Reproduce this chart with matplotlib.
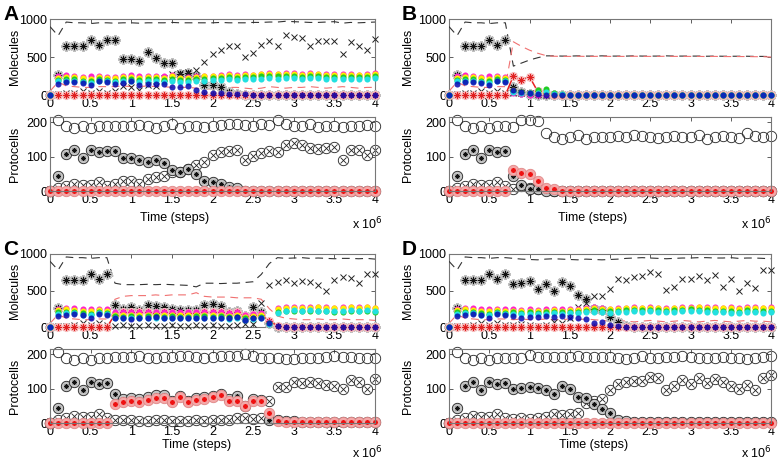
import numpy as np
import matplotlib
matplotlib.use("Agg")
import matplotlib.pyplot as plt

plt.rcParams['font.family'] = ['Liberation Sans', 'DejaVu Sans']

# sampling times (x 10^6 steps)
t = [0.0, 0.1, 0.2, 0.3, 0.4, 0.5, 0.6, 0.7, 0.8, 0.9, 1.0,
     1.1, 1.2, 1.3, 1.4, 1.5, 1.6, 1.7, 1.8, 1.9, 2.0,
     2.1, 2.2, 2.3, 2.4, 2.5, 2.6, 2.7, 2.8, 2.9, 3.0,
     3.1, 3.2, 3.3, 3.4, 3.5, 3.6, 3.7, 3.8, 3.9, 4.0]

# first 0.7e6 steps are the same in all four runs
tot_0 = [900, 780, 960, 950, 950, 940, 950, 950]
rtot_0 = [50, 170, 120, 110, 100, 100, 110, 110]
star_0 = [0, 260, 640, 640, 650, 730, 660, 730]
cross_0 = [0, 10, 20, 30, 50, 30, 50, 30]
rstar_0 = [0, 0, 0, 0, 0, 0, 0, 0]
mag_0 = [0, 250, 260, 255, 240, 245, 250, 240]
yel_0 = [0, 230, 240, 235, 220, 215, 235, 225]
grn_0 = [0, 200, 210, 205, 190, 180, 205, 195]
cyn_0 = [0, 180, 190, 185, 170, 160, 190, 180]
blu_0 = [0, 150, 170, 175, 160, 130, 180, 170]
popen_0 = [0, 205, 188, 182, 190, 182, 188, 188]
pstar_0 = [0, 45, 108, 120, 95, 118, 113, 116]
pcross_0 = [0, 10, 15, 20, 18, 18, 25, 15]
pred_0 = [0, 0, 0, 0, 0, 0, 0, 0]

# ---------------- run A ----------------
tot_A = tot_0 + [945, 950, 950, 945, 950, 950, 950, 955, 950, 950, 950,
                 950, 950, 955, 950, 950, 950, 955, 955, 960, 960, 970,
                 965, 960, 955, 955, 960, 965, 945, 955, 950, 955, 960]
rtot_A = rtot_0 + [110, 120, 110, 110, 120, 110, 110, 100, 100, 100, 90,
                   80, 80, 90, 100, 100, 90, 80, 90, 110, 100, 90,
                   100, 100, 110, 100, 90, 100, 110, 100, 90, 100, 100]
star_A = star_0 + [720, 470, 480, 450, 560, 490, 420, 420, 280, 290, 250,
                   130, 130, 100, 40, 10, 0, 0, 0, 0, 0, 0,
                   0, 0, 0, 0, 0, 0, 0, 0, 0, 0, 0]
cross_A = cross_0 + [50, 120, 100, 60, 130, 120, 230, 270, 290, 300, 330,
                     440, 540, 590, 640, 650, 500, 550, 660, 710, 640, 790,
                     760, 750, 650, 710, 710, 710, 540, 700, 650, 590, 740]
rstar_A = rstar_0 + [0, 0, 0, 0, 0, 0, 0, 0, 0, 0, 0,
                     0, 0, 0, 0, 0, 0, 0, 0, 0, 0, 0,
                     0, 0, 0, 0, 0, 0, 0, 0, 0, 0, 0]
mag_A = mag_0 + [240, 255, 260, 250, 250, 255, 245, 260, 230, 235, 245,
                 250, 255, 265, 270, 265, 270, 265, 275, 285, 280, 285,
                 285, 275, 285, 280, 275, 270, 270, 275, 265, 275, 285]
yel_A = yel_0 + [225, 235, 240, 230, 235, 240, 230, 245, 220, 225, 235,
                 245, 250, 255, 260, 255, 265, 260, 270, 275, 270, 275,
                 275, 265, 275, 270, 265, 265, 260, 265, 260, 265, 280]
grn_A = grn_0 + [190, 205, 210, 200, 205, 210, 200, 215, 195, 200, 205,
                 215, 220, 225, 235, 230, 235, 235, 245, 250, 245, 250,
                 250, 240, 250, 245, 240, 240, 235, 240, 235, 240, 255]
cyn_A = cyn_0 + [170, 180, 185, 175, 180, 185, 170, 190, 170, 175, 185,
                 190, 195, 200, 205, 200, 210, 210, 215, 220, 215, 220,
                 225, 215, 225, 220, 215, 210, 210, 215, 205, 210, 225]
blu_A = blu_0 + [150, 160, 180, 130, 140, 150, 150, 110, 110, 120, 70,
                 40, 30, 20, 10, 10, 8, 5, 5, 5, 5, 5,
                 5, 5, 5, 5, 5, 5, 5, 5, 5, 5, 5]
popen_A = popen_0 + [190, 188, 190, 192, 188, 182, 190, 195, 182, 190, 188,
                     185, 190, 192, 195, 195, 192, 188, 195, 192, 205, 195,
                     188, 188, 195, 185, 190, 188, 185, 188, 190, 192, 188]
pstar_A = pstar_0 + [117, 97, 95, 90, 85, 90, 80, 60, 55, 65, 50,
                     30, 25, 20, 12, 10, 0, 0, 0, 0, 0, 0,
                     0, 0, 0, 0, 0, 0, 0, 0, 0, 0, 0]
pcross_A = pcross_0 + [20, 30, 30, 20, 35, 40, 45, 55, 55, 65, 75,
                       85, 105, 112, 115, 118, 90, 103, 110, 115, 112, 135,
                       140, 135, 125, 123, 125, 128, 90, 120, 120, 105, 118]
pred_A = pred_0 + [0, 0, 0, 0, 0, 0, 0, 0, 0, 0, 0,
                   0, 0, 0, 0, 0, 0, 0, 0, 0, 0, 0,
                   0, 0, 0, 0, 0, 0, 0, 0, 0, 0, 0]

# ---------------- run B ----------------
tot_B = tot_0 + [380, 420, 460, 490, 515, 515, 512, 512, 515, 512, 512,
                 515, 512, 512, 512, 515, 512, 512, 512, 515, 512, 512,
                 512, 512, 510, 512, 510, 510, 510, 510, 508, 508, 505]
rtot_B = rtot_0 + [700, 640, 590, 550, 520, 510, 508, 508, 510, 508, 508,
                   510, 508, 508, 508, 510, 508, 508, 508, 510, 508, 508,
                   508, 508, 506, 508, 506, 506, 506, 506, 504, 504, 500]
star_B = star_0 + [100, 40, 10, 5, 0, 0, 0, 0, 0, 0, 0,
                   0, 0, 0, 0, 0, 0, 0, 0, 0, 0, 0,
                   0, 0, 0, 0, 0, 0, 0, 0, 0, 0, 0]
cross_B = cross_0 + [20, 30, 20, 10, 5, 0, 0, 0, 0, 0, 0,
                     0, 0, 0, 0, 0, 0, 0, 0, 0, 0, 0,
                     0, 0, 0, 0, 0, 0, 0, 0, 0, 0, 0]
rstar_B = rstar_0 + [250, 200, 240, 50, 20, 0, 0, 0, 0, 0, 0,
                     0, 0, 0, 0, 0, 0, 0, 0, 0, 0, 0,
                     0, 0, 0, 0, 0, 0, 0, 0, 0, 0, 0]
mag_B = mag_0 + [20, 10, 5, 5, 0, 0, 0, 0, 0, 0, 0,
                 0, 0, 0, 0, 0, 0, 0, 0, 0, 0, 0,
                 0, 0, 0, 0, 0, 0, 0, 0, 0, 0, 0]
yel_B = yel_0 + [60, 40, 30, 40, 20, 5, 0, 0, 0, 0, 0,
                 0, 0, 0, 0, 0, 0, 0, 0, 0, 0, 0,
                 0, 0, 0, 0, 0, 0, 0, 0, 0, 0, 0]
grn_B = grn_0 + [50, 40, 30, 60, 80, 20, 10, 0, 0, 0, 0,
                 0, 0, 0, 0, 0, 0, 0, 0, 0, 0, 0,
                 0, 0, 0, 0, 0, 0, 0, 0, 0, 0, 0]
cyn_B = cyn_0 + [40, 30, 20, 30, 40, 10, 10, 0, 0, 0, 0,
                 0, 0, 0, 0, 0, 0, 0, 0, 0, 0, 0,
                 0, 0, 0, 0, 0, 0, 0, 0, 0, 0, 0]
blu_B = blu_0 + [70, 40, 20, 10, 0, 0, 0, 0, 0, 0, 0,
                 0, 0, 0, 0, 0, 0, 0, 0, 0, 0, 0,
                 0, 0, 0, 0, 0, 0, 0, 0, 0, 0, 0]
popen_B = popen_0 + [185, 205, 205, 203, 168, 158, 152, 158, 162, 152, 158,
                     158, 158, 160, 158, 162, 160, 158, 155, 158, 160, 158,
                     158, 162, 152, 158, 160, 158, 155, 168, 160, 158, 160]
pstar_B = pstar_0 + [45, 18, 5, 5, 0, 0, 0, 0, 0, 0, 0,
                     0, 0, 0, 0, 0, 0, 0, 0, 0, 0, 0,
                     0, 0, 0, 0, 0, 0, 0, 0, 0, 0, 0]
pcross_B = pcross_0 + [5, 15, 10, 5, 3, 0, 0, 0, 0, 0, 0,
                       0, 0, 0, 0, 0, 0, 0, 0, 0, 0, 0,
                       0, 0, 0, 0, 0, 0, 0, 0, 0, 0, 0]
pred_B = pred_0 + [62, 52, 48, 30, 10, 5, 0, 0, 0, 0, 0,
                   0, 0, 0, 0, 0, 0, 0, 0, 0, 0, 0,
                   0, 0, 0, 0, 0, 0, 0, 0, 0, 0, 0]

# ---------------- run C ----------------
tot_C = tot_0 + [600, 580, 580, 580, 585, 580, 585, 580, 575, 570, 550,
                 600, 600, 595, 600, 600, 610, 620, 720, 870, 950, 940,
                 945, 950, 940, 945, 940, 935, 940, 940, 935, 940, 930]
rtot_C = rtot_0 + [380, 420, 430, 430, 430, 440, 430, 440, 440, 440, 470,
                   420, 410, 410, 410, 400, 400, 400, 380, 250, 150, 120,
                   110, 100, 100, 110, 100, 100, 110, 100, 100, 100, 90]
star_C = star_0 + [300, 240, 270, 230, 300, 290, 270, 250, 230, 230, 230,
                   300, 320, 290, 200, 220, 150, 270, 200, 50, 0, 0,
                   0, 0, 0, 0, 0, 0, 0, 0, 0, 0, 0]
cross_C = cross_0 + [20, 30, 20, 20, 30, 20, 20, 30, 20, 20, 30,
                     20, 30, 20, 20, 30, 40, 40, 330, 580, 610, 640,
                     600, 630, 620, 570, 500, 650, 690, 670, 600, 720, 720]
rstar_C = rstar_0 + [170, 200, 200, 200, 210, 190, 200, 190, 180, 190, 190,
                     200, 200, 210, 190, 200, 150, 160, 170, 80, 20, 0,
                     0, 0, 0, 0, 0, 0, 0, 0, 0, 0, 0]
mag_C = mag_0 + [200, 205, 210, 200, 205, 210, 200, 205, 200, 200, 205,
                 210, 200, 205, 195, 200, 170, 180, 190, 70, 260, 280,
                 270, 275, 270, 280, 275, 265, 270, 280, 275, 280, 265]
yel_C = yel_0 + [170, 160, 165, 160, 165, 170, 160, 165, 160, 160, 165,
                 170, 160, 165, 155, 160, 140, 150, 160, 60, 240, 260,
                 265, 260, 265, 270, 265, 255, 260, 270, 265, 270, 255]
grn_C = grn_0 + [150, 140, 145, 140, 145, 150, 140, 145, 140, 140, 145,
                 150, 140, 145, 135, 140, 120, 130, 140, 50, 210, 220,
                 225, 220, 225, 215, 220, 200, 210, 225, 215, 220, 205]
cyn_C = cyn_0 + [130, 120, 125, 120, 125, 130, 120, 125, 120, 120, 125,
                 130, 120, 125, 115, 120, 100, 110, 120, 40, 190, 215,
                 230, 225, 230, 220, 225, 215, 220, 235, 225, 230, 220]
blu_C = blu_0 + [130, 120, 110, 130, 120, 140, 130, 120, 130, 130, 120,
                 130, 120, 130, 120, 140, 90, 120, 120, 50, 20, 5,
                 5, 5, 5, 5, 5, 5, 5, 5, 5, 5, 5]
popen_C = popen_0 + [192, 192, 192, 195, 190, 188, 192, 192, 195, 195, 192,
                     190, 192, 195, 195, 195, 200, 195, 190, 190, 188, 185,
                     185, 188, 188, 190, 192, 195, 192, 192, 190, 188, 190]
pstar_C = pstar_0 + [85, 70, 72, 70, 75, 82, 82, 65, 78, 65, 72,
                     75, 78, 85, 70, 78, 50, 70, 68, 10, 8, 5,
                     5, 3, 3, 3, 3, 3, 3, 3, 3, 3, 3]
pcross_C = pcross_0 + [10, 8, 8, 5, 5, 8, 8, 5, 5, 5, 8,
                       5, 8, 8, 10, 15, 15, 12, 15, 64, 105, 105,
                       120, 115, 118, 115, 110, 108, 100, 125, 120, 100, 128]
pred_C = pred_0 + [55, 60, 65, 62, 68, 72, 72, 62, 75, 62, 68,
                   70, 75, 82, 65, 65, 50, 65, 65, 28, 5, 2,
                   2, 2, 2, 2, 2, 2, 2, 2, 2, 2, 2]

# ---------------- run D ----------------
tot_D = tot_0 + [940, 930, 925, 920, 930, 935, 930, 925, 920, 930, 925,
                 920, 925, 930, 940, 945, 950, 945, 940, 935, 940, 945,
                 945, 950, 950, 945, 945, 950, 940, 945, 945, 940, 935]
rtot_D = rtot_0 + [100, 110, 100, 100, 110, 100, 100, 110, 100, 110, 100,
                   90, 80, 90, 80, 70, 80, 90, 80, 70, 80, 90,
                   80, 70, 80, 90, 80, 70, 80, 90, 80, 80, 70]
star_D = star_0 + [590, 600, 630, 520, 590, 490, 610, 560, 440, 390, 250,
                   230, 140, 70, 10, 0, 0, 0, 0, 0, 0, 0,
                   0, 0, 0, 0, 0, 0, 0, 0, 0, 0, 0]
cross_D = cross_0 + [30, 40, 30, 20, 30, 70, 60, 130, 270, 330, 420,
                     420, 520, 660, 640, 690, 700, 750, 720, 510, 550, 660,
                     660, 700, 640, 710, 550, 660, 500, 600, 540, 780, 780]
rstar_D = rstar_0 + [0, 0, 0, 0, 0, 0, 0, 0, 0, 0, 0,
                     0, 0, 0, 0, 0, 0, 0, 0, 0, 0, 0,
                     0, 0, 0, 0, 0, 0, 0, 0, 0, 0, 0]
mag_D = mag_0 + [240, 235, 240, 235, 240, 245, 240, 250, 245, 265, 270,
                 260, 250, 255, 265, 270, 265, 270, 265, 255, 265, 270,
                 275, 280, 275, 270, 265, 270, 260, 275, 270, 265, 270]
yel_D = yel_0 + [225, 220, 225, 220, 225, 230, 225, 235, 230, 250, 255,
                 245, 240, 245, 255, 260, 255, 260, 255, 245, 255, 260,
                 265, 270, 265, 260, 255, 260, 250, 265, 260, 255, 260]
grn_D = grn_0 + [200, 195, 200, 195, 200, 205, 200, 210, 205, 225, 230,
                 220, 215, 220, 230, 235, 230, 235, 230, 220, 230, 235,
                 240, 235, 230, 225, 220, 215, 210, 230, 225, 215, 220]
cyn_D = cyn_0 + [180, 175, 180, 175, 180, 185, 180, 190, 185, 205, 210,
                 200, 195, 200, 210, 215, 210, 215, 210, 200, 210, 215,
                 220, 215, 210, 205, 200, 195, 190, 210, 205, 195, 200]
blu_D = blu_0 + [150, 130, 140, 140, 150, 140, 150, 140, 130, 110, 60,
                 70, 30, 10, 5, 5, 5, 5, 5, 5, 5, 5,
                 5, 5, 5, 5, 5, 5, 5, 5, 5, 5, 5]
popen_D = popen_0 + [190, 190, 198, 192, 192, 192, 192, 193, 195, 192, 193,
                     192, 192, 190, 185, 188, 196, 190, 188, 192, 192, 194,
                     192, 190, 188, 190, 192, 190, 188, 185, 190, 192, 195]
pstar_D = pstar_0 + [98, 102, 105, 102, 95, 85, 108, 100, 75, 72, 55,
                     42, 30, 10, 5, 3, 3, 3, 3, 3, 3, 3,
                     3, 3, 3, 3, 3, 3, 3, 3, 3, 3, 3]
pcross_D = pcross_0 + [12, 15, 12, 15, 18, 25, 22, 25, 30, 58, 65,
                       70, 97, 112, 118, 122, 122, 135, 130, 95, 108, 125,
                       112, 130, 115, 128, 120, 108, 100, 110, 95, 130, 140]
pred_D = pred_0 + [0, 0, 0, 0, 0, 0, 0, 0, 0, 0, 0,
                   0, 0, 0, 0, 0, 0, 0, 0, 0, 0, 0,
                   0, 0, 0, 0, 0, 0, 0, 0, 0, 0, 0]

xticks = [0, 0.5, 1, 1.5, 2, 2.5, 3, 3.5, 4]
xticklabels = ['0', '0.5', '1', '1.5', '2', '2.5', '3', '3.5', '4']

W, H = 778, 461
ASTER = (8, 2, 0)


def px_axes(fig, left, top, right, bottom):
    return fig.add_axes([left / W, 1 - bottom / H, (right - left) / W, (bottom - top) / H])


def style_axes(ax, ymax, yticks):
    ax.set_xlim(0, 4)
    ax.set_ylim(0, ymax)
    ax.set_xticks(xticks)
    ax.set_xticklabels(xticklabels)
    ax.set_yticks(yticks)
    ax.tick_params(direction='in', length=3, width=0.6, labelsize=9,
                   top=True, right=True, pad=2, color='#444')
    for s in ax.spines.values():
        s.set_color('#777')
        s.set_linewidth(0.8)


def mol_panel(ax, tot, rtot, star, rstar, cross, mag, yel, grn, cyn, blu):
    ax.plot(t, tot, color='#333333', lw=0.8, dashes=(7, 5), zorder=3)
    ax.plot(t, rtot, color='#f07070', lw=0.8, dashes=(7, 5), zorder=3)
    # black asterisk species (with grey halo), drawn under the red one
    ax.plot(t, star, ls='none', marker=ASTER, color='#c0c0c0', ms=7.5, mew=1.8,
            zorder=4, clip_on=False)
    ax.plot(t, star, ls='none', marker=ASTER, color='#111111', ms=5.2, mew=0.6,
            zorder=5, clip_on=False)
    ax.plot(t, cross, 'x', color='#222222', ms=4, mew=0.7, zorder=5, clip_on=False)
    # red species: line with asterisks
    ax.plot(t, rstar, color='#e82020', lw=1.1, zorder=6, clip_on=False)
    ax.plot(t, rstar, ls='none', marker=ASTER, color='#f5b8b8', ms=6.5, mew=1.6,
            zorder=6, clip_on=False)
    ax.plot(t, rstar, ls='none', marker=ASTER, color='#e02020', ms=4.5, mew=0.6,
            zorder=7, clip_on=False)
    for vals, c in [(mag, '#ff22cc'), (yel, '#ffee00'), (grn, '#22cc22'),
                    (cyn, '#22e0e0')]:
        ax.plot(t, vals, 'o', ms=4.4, mfc=c, mec=c, mew=0, zorder=8, clip_on=False)
    ax.plot(t, blu, 'o', ms=4.4, mfc='#0808b0', mec='#0808b0', mew=0, alpha=0.85,
            zorder=8, clip_on=False)
    style_axes(ax, 1000, [0, 500, 1000])


def prot_panel(ax, popen, pstar, pcross, pred):
    ax.plot(t, popen, 'o', ms=7.5, mfc='none', mec='#222222', mew=0.6, clip_on=False)
    ax.plot(t, pcross, 'o', ms=7.5, mfc='white', mec='#222222', mew=0.6, clip_on=False)
    ax.plot(t, pcross, 'x', ms=4.5, color='#222222', mew=0.6, clip_on=False)
    ax.plot(t, pstar, 'o', ms=7.5, mfc='#c4c4c4', mec='#222222', mew=0.6, clip_on=False)
    ax.plot(t, pstar, ls='none', marker=ASTER, ms=3.5, color='#111111', mew=0.6,
            clip_on=False)
    ax.plot(t, pred, 'o', ms=7.5, mfc='#f4a8a8', mec='#e08888', mew=0.6, clip_on=False)
    ax.plot(t, pred, ls='none', marker=ASTER, ms=3.5, color='#ee1111', mew=0.8,
            clip_on=False)
    style_axes(ax, 215, [0, 100, 200])


fig = plt.figure(figsize=(W / 100, H / 100), dpi=100)

# letter, left, right, mol top, mol bottom, prot top, prot bottom,
# xlabel centre (x, y), x10^6 right edge and centre y
panels = [
    ('A', 50, 375, 19, 95, 117, 191, (175, 218), (383, 224),
     (tot_A, rtot_A, star_A, rstar_A, cross_A, mag_A, yel_A, grn_A, cyn_A, blu_A),
     (popen_A, pstar_A, pcross_A, pred_A)),
    ('B', 449, 771, 19, 95, 117, 191, (593, 218), (772, 224),
     (tot_B, rtot_B, star_B, rstar_B, cross_B, mag_B, yel_B, grn_B, cyn_B, blu_B),
     (popen_B, pstar_B, pcross_B, pred_B)),
    ('C', 50, 375, 254, 327, 349, 423, (197, 445), (383, 453),
     (tot_C, rtot_C, star_C, rstar_C, cross_C, mag_C, yel_C, grn_C, cyn_C, blu_C),
     (popen_C, pstar_C, pcross_C, pred_C)),
    ('D', 449, 771, 254, 327, 349, 423, (594, 445), (772, 453),
     (tot_D, rtot_D, star_D, rstar_D, cross_D, mag_D, yel_D, grn_D, cyn_D, blu_D),
     (popen_D, pstar_D, pcross_D, pred_D)),
]

for letter, l, r, mt, mb, pt, pb, xlab, x6, mol, prot in panels:
    ylab_x = (l - 29 - l) / (r - l) if l < 100 else (l - 35 - l) / (r - l)

    ax1 = px_axes(fig, l, mt, r, mb)
    mol_panel(ax1, *mol)
    ax1.set_ylabel('Molecules', fontsize=9)
    ax1.yaxis.set_label_coords(ylab_x, 0.5)

    ax2 = px_axes(fig, l, pt, r, pb)
    prot_panel(ax2, *prot)
    ax2.set_ylabel('Protocells', fontsize=9)
    ax2.yaxis.set_label_coords(ylab_x, 0.5)

    fig.text(xlab[0] / W, 1 - xlab[1] / H, 'Time (steps)', fontsize=9,
             ha='center', va='center')
    fig.text(x6[0] / W, 1 - x6[1] / H, r'x 10$^6$', fontsize=9,
             ha='right', va='center')

    fig.text((l - 47) / W, 1 - (mt - 14) / H, letter, fontsize=15,
             fontweight='bold', ha='left', va='top')

fig.savefig('out.png', dpi=100)
